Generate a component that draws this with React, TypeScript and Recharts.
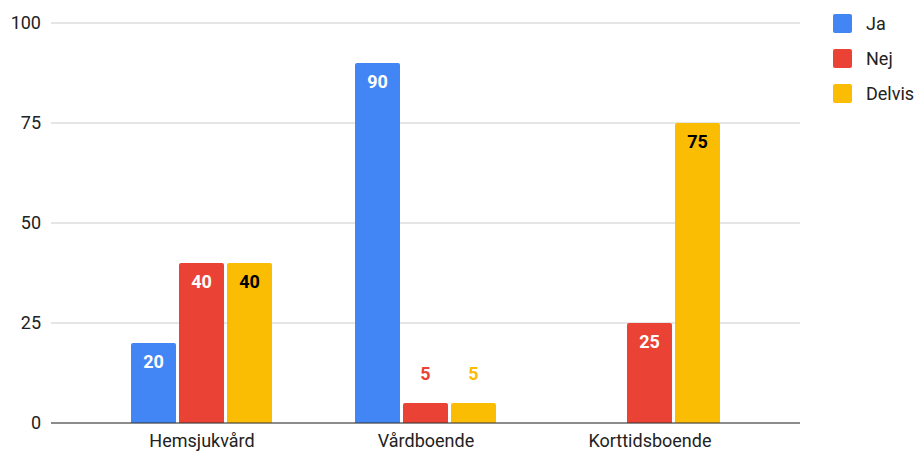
import React from 'react';
import { BarChart, Bar, XAxis, YAxis, CartesianGrid, LabelList } from 'recharts';

const categories = ['Hemsjukvård', 'Vårdboende', 'Korttidsboende'];
const ja: (number | null)[] = [20, 90, null];
const nej: (number | null)[] = [40, 5, 25];
const delvis: (number | null)[] = [40, 5, 75];
const yTicks = [0, 25, 50, 75, 100];

const series = [
  { key: 'Ja', values: ja, color: '#4285F4', inside: '#ffffff' },
  { key: 'Nej', values: nej, color: '#EA4335', inside: '#ffffff' },
  { key: 'Delvis', values: delvis, color: '#FBBC04', inside: '#000000' },
];

const data = categories.map((name, i) => ({
  name,
  Ja: ja[i],
  Nej: nej[i],
  Delvis: delvis[i],
}));

const FONT = 'Roboto, Arial, sans-serif';

const makeLabel = (color: string, inside: string) => (props: any) => {
  const { x, y, width, height, value } = props;
  if (value === null || value === undefined) return null;
  const big = height > 30;
  return (
    <text
      x={x + width / 2}
      y={big ? y + 18 : y - 30}
      textAnchor="middle"
      dominantBaseline="central"
      fontFamily={FONT}
      fontSize={18}
      fontWeight="bold"
      fill={big ? inside : color}
    >
      {value}
    </text>
  );
};

export default function App() {
  return (
    <div style={{ position: 'absolute', left: 0, top: 0, width: 918, height: 451, background: '#fff' }}>
      <BarChart
        width={918}
        height={451}
        data={data}
        margin={{ top: 23, right: 118, bottom: 0, left: 0 }}
        barCategoryGap={41}
        barGap={3}
      >
        <CartesianGrid vertical={false} stroke="#cccccc" />
        <XAxis
          dataKey="name"
          height={28}
          padding={{ left: 39, right: 38 }}
          axisLine={{ stroke: '#333333' }}
          tickLine={false}
          tickMargin={5}
          tick={{ fill: '#222', fontSize: 18, fontFamily: FONT }}
        />
        <YAxis
          width={51}
          domain={[0, 100]}
          ticks={yTicks}
          axisLine={false}
          tickLine={false}
          tickSize={0}
          tickMargin={10}
          tick={{ fill: '#222', fontSize: 18, fontFamily: FONT }}
        />
        {series.map((s) => (
          <Bar key={s.key} dataKey={s.key} fill={s.color} radius={[2, 2, 0, 0]} isAnimationActive={false}>
            <LabelList dataKey={s.key} content={makeLabel(s.color, s.inside)} />
          </Bar>
        ))}
      </BarChart>
      <div style={{ position: 'absolute', left: 833, top: 6, fontFamily: FONT, fontSize: 18, color: '#222' }}>
        {series.map((s) => (
          <div key={s.key} style={{ display: 'flex', alignItems: 'center', height: 35 }}>
            <div style={{ width: 19, height: 19, borderRadius: 2, background: s.color, marginRight: 14 }} />
            <span>{s.key}</span>
          </div>
        ))}
      </div>
    </div>
  );
}
